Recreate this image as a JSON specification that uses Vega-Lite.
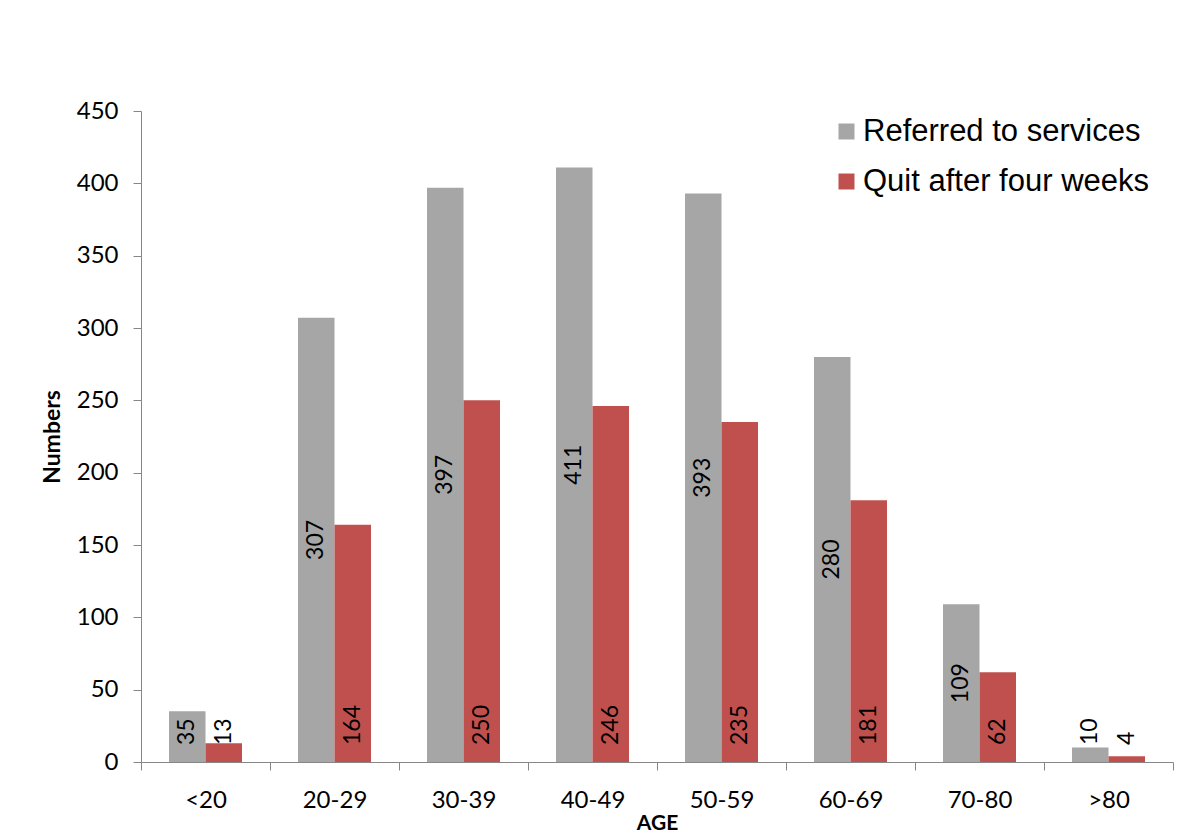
{
  "$schema": "https://vega.github.io/schema/vega-lite/v6.json",
  "width": 1032,
  "height": 651,
  "autosize": {"type": "none"},
  "padding": {"left": 141, "top": 111, "right": 21, "bottom": 72},
  "background": "white",
  "data": {
    "values": [
      {"age": "<20", "series": "Referred to services", "value": 35},
      {"age": "20-29", "series": "Referred to services", "value": 307},
      {"age": "30-39", "series": "Referred to services", "value": 397},
      {"age": "40-49", "series": "Referred to services", "value": 411},
      {"age": "50-59", "series": "Referred to services", "value": 393},
      {"age": "60-69", "series": "Referred to services", "value": 280},
      {"age": "70-80", "series": "Referred to services", "value": 109},
      {"age": ">80", "series": "Referred to services", "value": 10},
      {"age": "<20", "series": "Quit after four weeks", "value": 13},
      {"age": "20-29", "series": "Quit after four weeks", "value": 164},
      {"age": "30-39", "series": "Quit after four weeks", "value": 250},
      {"age": "40-49", "series": "Quit after four weeks", "value": 246},
      {"age": "50-59", "series": "Quit after four weeks", "value": 235},
      {"age": "60-69", "series": "Quit after four weeks", "value": 181},
      {"age": "70-80", "series": "Quit after four weeks", "value": 62},
      {"age": ">80", "series": "Quit after four weeks", "value": 4}
    ]
  },
  "encoding": {
    "x": {
      "field": "age",
      "type": "nominal",
      "sort": ["<20", "20-29", "30-39", "40-49", "50-59", "60-69", "70-80", ">80"],
      "scale": {"paddingInner": 0, "paddingOuter": 0},
      "axis": {
        "title": "AGE",
        "labelAngle": 0,
        "tickBand": "extent",
        "domainColor": "#868686",
        "tickColor": "#868686",
        "tickSize": 8,
        "labelFont": "Lato",
        "labelFontSize": 24,
        "labelColor": "#000000",
        "labelPadding": 18,
        "titleFont": "Lato",
        "titleFontSize": 21,
        "titleFontWeight": "bold",
        "titleColor": "#000000",
        "titlePadding": 0
      }
    },
    "xOffset": {
      "field": "series",
      "type": "nominal",
      "sort": ["Referred to services", "Quit after four weeks"],
      "scale": {"paddingInner": 0, "paddingOuter": 0.767}
    }
  },
  "layer": [
    {
      "mark": {"type": "bar"},
      "encoding": {
        "y": {
          "field": "value",
          "type": "quantitative",
          "scale": {"domain": [0, 450], "nice": false},
          "axis": {
            "title": "Numbers",
            "values": [0, 50, 100, 150, 200, 250, 300, 350, 400, 450],
            "grid": false,
            "domainColor": "#868686",
            "tickColor": "#868686",
            "tickSize": 8,
            "labelFont": "Lato",
            "labelFontSize": 24,
            "labelColor": "#000000",
            "labelPadding": 15,
            "titleFont": "Lato",
            "titleFontSize": 23,
            "titleFontWeight": "bold",
            "titleColor": "#000000",
            "titlePadding": 12
          }
        },
        "color": {
          "field": "series",
          "type": "nominal",
          "sort": ["Referred to services", "Quit after four weeks"],
          "scale": {
            "domain": ["Referred to services", "Quit after four weeks"],
            "range": ["#A6A6A6", "#C0504D"]
          },
          "legend": {
            "title": null,
            "orient": "none",
            "legendX": 690,
            "legendY": 5,
            "padding": 0,
            "symbolType": "square",
            "symbolSize": 256,
            "symbolStrokeWidth": 0,
            "labelFont": "Liberation Sans",
            "labelFontSize": 31,
            "labelColor": "#000000",
            "labelOffset": 1,
            "rowPadding": 18,
            "labelLimit": 400
          }
        }
      }
    },
    {
      "transform": [
        {"filter": "datum.series == 'Referred to services' && datum.value >= 50"}
      ],
      "mark": {
        "type": "text",
        "angle": 270,
        "align": "center",
        "baseline": "middle",
        "font": "Lato",
        "fontSize": 23,
        "color": "#000000"
      },
      "encoding": {
        "y": {
          "field": "value",
          "type": "quantitative",
          "scale": {"domain": [0, 900], "nice": false},
          "axis": null
        },
        "text": {"field": "value", "type": "quantitative"}
      }
    },
    {
      "transform": [
        {"filter": "datum.series == 'Quit after four weeks' || datum.value < 50"}
      ],
      "mark": {
        "type": "text",
        "angle": 270,
        "align": "left",
        "baseline": "middle",
        "dx": 17,
        "font": "Lato",
        "fontSize": 23,
        "color": "#000000"
      },
      "encoding": {
        "y": {
          "datum": 0,
          "type": "quantitative",
          "scale": {"domain": [0, 450], "nice": false},
          "axis": null
        },
        "text": {"field": "value", "type": "quantitative"}
      }
    }
  ],
  "resolve": {"scale": {"y": "independent"}},
  "config": {
    "view": {"stroke": null},
    "axis": {"domainWidth": 1, "tickWidth": 1}
  }
}
